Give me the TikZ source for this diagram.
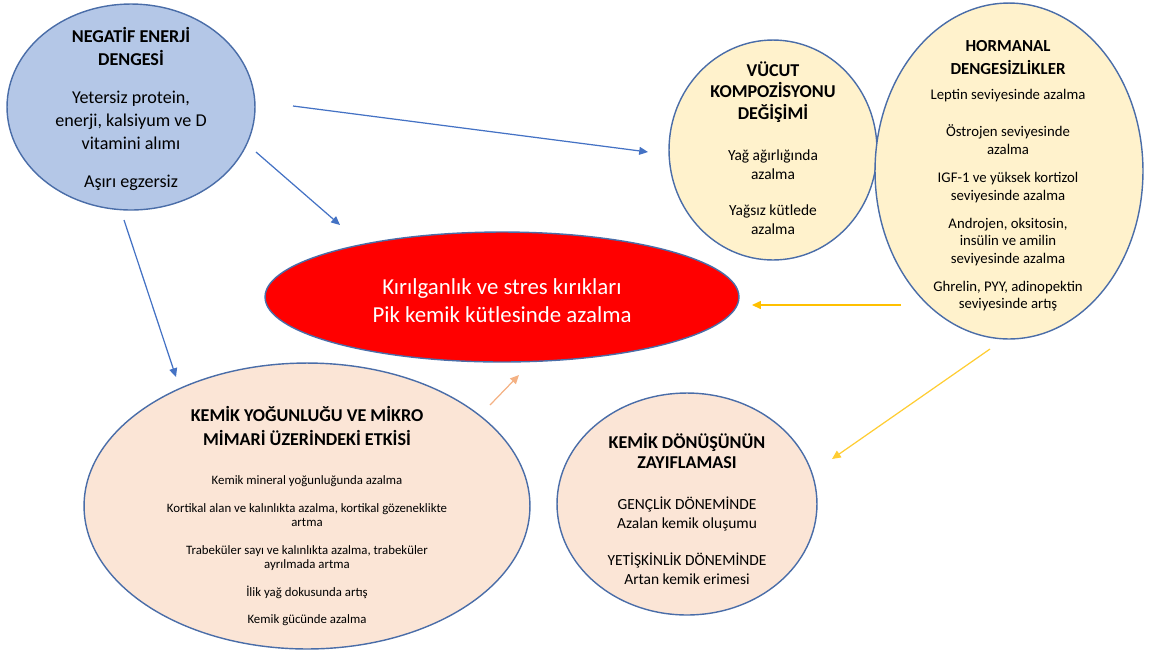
\documentclass[tikz,border=0pt]{standalone}
\usepackage{fontspec}
\setmainfont{Carlito}
\usepackage{xcolor}
\usetikzlibrary{shapes.geometric,arrows.meta}
\definecolor{rimblue}{HTML}{4A6DA8}
\definecolor{negfill}{HTML}{B4C7E7}
\definecolor{sandfill}{HTML}{FFF2CC}
\definecolor{peachfill}{HTML}{FBE5D6}
\definecolor{linkblue}{HTML}{4472C4}
\definecolor{linkgold}{HTML}{FFC000}
\definecolor{linkpeach}{HTML}{F4B183}
\tikzset{
  bubble/.style={ellipse, draw=rimblue, line width=0.8pt, inner sep=0pt},
  label/.style={align=center, text=black, inner sep=0pt},
  link/.style={-{Triangle[length=5pt,width=4.5pt]}, line width=0.7pt}
}
\newcommand{\hd}[1]{{\bfseries #1}}

\begin{document}
\begin{tikzpicture}[x=0.02cm, y=-0.02cm]
  \useasboundingbox (0,0) rectangle (1150,654);
  % ellipses
  \node[bubble, fill=negfill, minimum width=4.96cm, minimum height=4.12cm] (neg) at (131,107) {};
  \node[bubble, fill=sandfill, minimum width=4.16cm, minimum height=4.40cm] (vucut) at (773,150) {};
  \node[bubble, fill=sandfill, minimum width=5.36cm, minimum height=6.72cm] (hormon) at (1009,171) {};
  \node[bubble, fill=red, minimum width=9.48cm, minimum height=2.60cm] (kirik) at (502,297) {};
  \node[bubble, fill=peachfill, minimum width=8.92cm, minimum height=5.72cm] (kemik) at (307,506) {};
  \node[bubble, fill=peachfill, minimum width=5.20cm, minimum height=4.44cm] (donus) at (687,504) {};

  % texts
  \node[label, font=\fontsize{10.3}{13}\selectfont] (negtxt) at (131,109)
    {\hd{NEGATİF ENERJİ}\\\hd{DENGESİ}\\[8.6pt]
     Yetersiz protein,\\enerji, kalsiyum ve D\\vitamini alımı\\[8.6pt]
     Aşırı egzersiz};
  \node[label, font=\fontsize{8.8}{10.6}\selectfont] (vucuttxt) at (773,148)
    {\hd{\fontsize{10.3}{11}\selectfont VÜCUT}\\[1.5pt]\hd{\fontsize{10.3}{11}\selectfont KOMPOZİSYONU}\\[1.5pt]
     \hd{\fontsize{10.3}{11}\selectfont DEĞİŞİMİ}\\[13pt]
     Yağ ağırlığında\\azalma\\[10pt]
     Yağsız kütlede\\azalma};
  \node[label, font=\fontsize{8.4}{10}\selectfont] (hormontxt) at (1008,176)
    {\hd{\fontsize{9.6}{10}\selectfont HORMANAL}\\[3pt]\hd{\fontsize{9.6}{10}\selectfont DENGESİZLİKLER}\\[4.5pt]
     Leptin seviyesinde azalma\\[11pt]
     Östrojen seviyesinde\\azalma\\[6pt]
     IGF-1 ve yüksek kortizol\\seviyesinde azalma\\[6pt]
     Androjen, oksitosin,\\insülin ve amilin\\seviyesinde azalma\\[6pt]
     Ghrelin, PYY, adinopektin\\seviyesinde artış};
  \node[label, text=white, font=\fontsize{13}{16}\selectfont] (kiriktxt) at (502,301)
    {Kırılganlık ve stres kırıkları\\Pik kemik kütlesinde azalma};
  \node[label, font=\fontsize{7.3}{8.5}\selectfont] (kemiktxt) at (307,516)
    {\hd{\fontsize{10.3}{8.5}\selectfont KEMİK YOĞUNLUĞU VE MİKRO}\\[4pt]
     \hd{\fontsize{10.3}{8.5}\selectfont MİMARİ ÜZERİNDEKİ ETKİSİ}\\[13.7pt]
     Kemik mineral yoğunluğunda azalma\\[6.9pt]
     Kortikal alan ve kalınlıkta azalma, kortikal gözeneklikte\\artma\\[6.9pt]
     Trabeküler sayı ve kalınlıkta azalma, trabeküler\\ayrılmada artma\\[6.9pt]
     İlik yağ dokusunda artış\\[6.9pt]
     Kemik gücünde azalma};
  \node[label, font=\fontsize{8.8}{10.5}\selectfont] (donustxt) at (687,509)
    {\hd{\fontsize{10.3}{10.5}\selectfont KEMİK DÖNÜŞÜNÜN}\\[1pt]\hd{\fontsize{10.3}{10.5}\selectfont ZAYIFLAMASI}\\[12.8pt]
     GENÇLİK DÖNEMİNDE\\Azalan kemik oluşumu\\[11pt]
     YETİŞKİNLİK DÖNEMİNDE\\Artan kemik erimesi};

  % arrow ends
  \coordinate (n1) at (293,106);  \coordinate (v1) at (648,152);
  \coordinate (n2) at (256,152);  \coordinate (k1) at (340,225);
  \coordinate (n3) at (124,220);  \coordinate (m1) at (176,377);
  \coordinate (h1) at (901,305);  \coordinate (k2) at (752,305);
  \coordinate (h2) at (990,349);  \coordinate (d1) at (832,459);
  \coordinate (m2) at (490,405);  \coordinate (k3) at (519,375);

  \draw[link, linkblue] (n1) -- (v1);
  \draw[link, linkblue] (n2) -- (k1);
  \draw[link, linkblue] (n3) -- (m1);
  \draw[link, linkgold] (h1) -- (k2);
  \draw[link, linkgold!80] (h2) -- (d1);
  \draw[link, linkpeach] (m2) -- (k3);
\end{tikzpicture}
\end{document}
